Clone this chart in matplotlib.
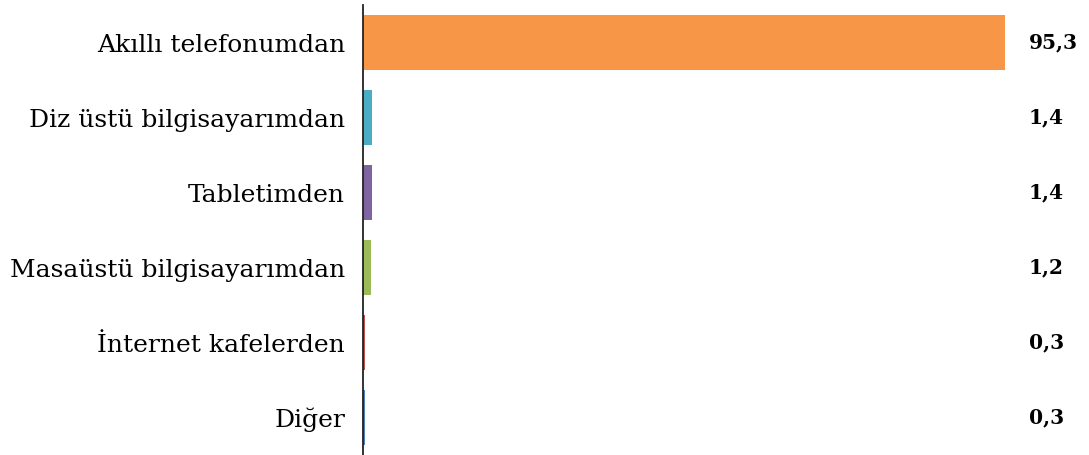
import matplotlib
matplotlib.use('Agg')
import matplotlib.pyplot as plt

kategoriler = ['Akıllı telefonumdan', 'Diz üstü bilgisayarımdan', 'Tabletimden',
               'Masaüstü bilgisayarımdan', 'İnternet kafelerden', 'Diğer']
degerler = [95.3, 1.4, 1.4, 1.2, 0.3, 0.3]
etiketler = ['95,3', '1,4', '1,4', '1,2', '0,3', '0,3']
renkler = ['#F79646', '#4BACC6', '#8064A2', '#9BBB59', '#C0504D', '#4F81BD']

W, H = 1089, 455
fig = plt.figure(figsize=(W / 100, H / 100), dpi=100)
ax = fig.add_axes([363 / W, 0, 1 - 363 / W, 450 / H])

y = list(range(len(kategoriler)))
ax.barh(y, degerler, height=0.73, color=renkler)
ax.set_ylim(len(kategoriler) - 0.5, -0.5)
ax.set_xlim(0, (W - 363) / 6.737)

ax.set_yticks(y)
ax.set_yticklabels(kategoriler, family='DejaVu Serif', fontsize=18)
ax.tick_params(axis='y', length=0, pad=13)
ax.set_xticks([])

for s in ['top', 'right', 'bottom']:
    ax.spines[s].set_visible(False)
ax.spines['left'].set_linewidth(1.3)
ax.spines['left'].set_color('#222222')

for yi, et in zip(y, etiketler):
    ax.text((1029 - 363) / 6.737, yi, et, va='center', ha='left',
            family='DejaVu Serif', fontweight='bold', fontsize=14.5)

fig.savefig('out.png', dpi=100)
